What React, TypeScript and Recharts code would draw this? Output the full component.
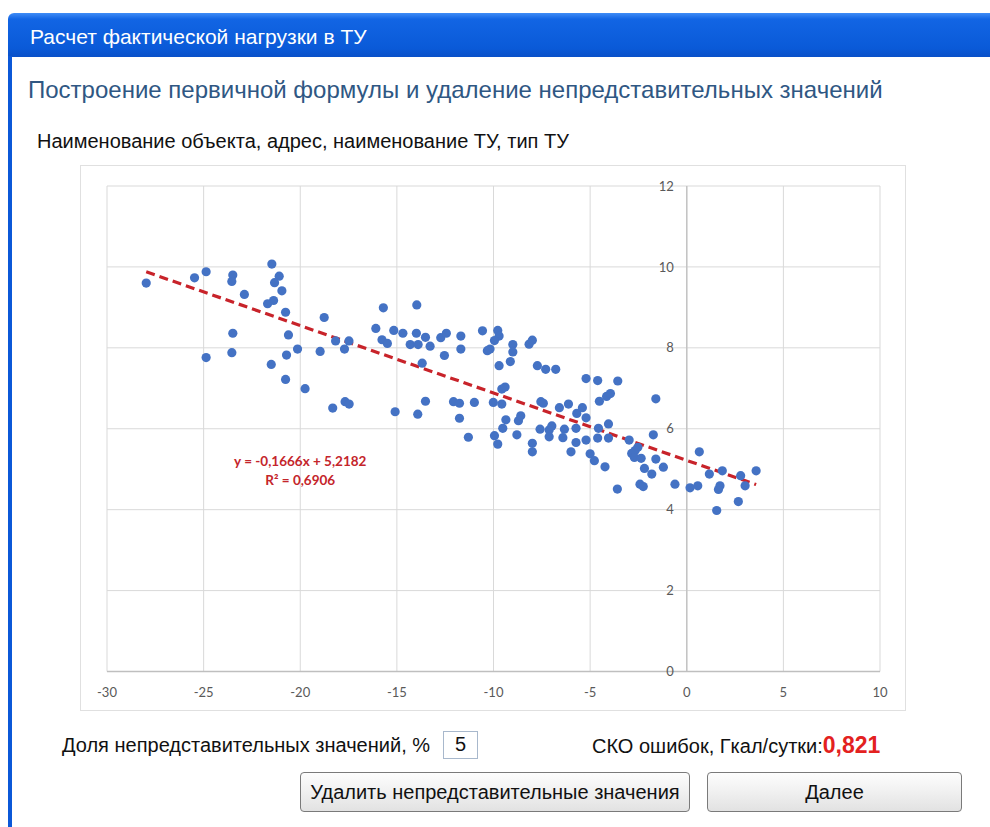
import { ScatterChart, Scatter, XAxis, YAxis, CartesianGrid, ReferenceLine, ReferenceDot } from 'recharts';

// Outdoor temperature, °C (one entry per day)
const tempValues = [
  -27.97, -25.47, -24.87, -23.49, -23.54, -22.89, -21.47, -21.09, -21.33, -20.95,
  -21.38, -21.69, -20.76, -23.49, -20.61, -24.87, -23.54, -20.71, -21.5, -20.76,
  -19.75, -20.14, -18.97, -18.76, -18.17, -17.71, -17.48, -18.32, -17.68, -17.47,
  -16.09, -15.7, -15.77, -15.49, -15.16, -14.69, -15.09, -13.97, -13.99, -14.31,
  -13.9, -13.52, -13.28, -13.69, -13.52, -13.92, -12.73, -12.44, -12.54, -12.07,
  -11.76, -11.69, -11.69, -10.99, -11.76, -11.3, -10.57, -9.78, -9.71, -9.95,
  -10.32, -10.18, -9.0, -9.0, -9.13, -9.71, -8.16, -7.99, -7.73, -7.3,
  -6.78, -10.01, -9.57, -9.57, -9.4, -9.95, -9.78, -9.36, -9.52, -8.71,
  -8.59, -8.79, -7.99, -7.99, -7.55, -7.42, -7.59, -7.12, -6.98, -7.12,
  -6.59, -6.12, -6.33, -6.41, -5.69, -5.4, -5.73, -5.73, -5.99, -5.21,
  -5.21, -5.21, -4.61, -3.57, -4.52, -4.15, -3.95, -5.0, -4.78, -4.57,
  -4.61, -4.23, -4.05, -4.05, -3.59, -1.6, -2.98, -1.73, -2.53, -2.67,
  -2.85, -2.71, -2.36, -2.19, -1.6, -1.81, -1.21, -2.42, -2.25, -0.61,
  0.17, 0.57, 0.65, 1.17, 1.84, 1.72, 1.64, 1.55, 2.67, 2.79,
  3.02, 3.59,
];

// Actual heat load, Gcal/day
const loadValues = [
  9.6, 9.73, 9.88, 9.8, 9.64, 9.32, 10.07, 9.77, 9.61, 9.41,
  9.17, 9.09, 8.88, 8.36, 8.32, 7.76, 7.88, 7.82, 7.59, 7.22,
  6.99, 7.97, 7.91, 8.75, 8.17, 7.97, 8.17, 6.51, 6.67, 6.61,
  8.48, 8.99, 8.2, 8.11, 8.43, 8.36, 6.42, 9.06, 8.36, 8.08,
  8.08, 8.26, 8.04, 7.62, 6.68, 6.36, 8.25, 8.36, 7.81, 6.67,
  6.63, 8.29, 7.97, 6.65, 6.26, 5.79, 8.42, 8.43, 8.29, 8.18,
  7.93, 7.97, 8.08, 7.9, 7.66, 7.56, 8.09, 8.19, 7.56, 7.47,
  7.47, 6.65, 6.61, 6.98, 7.03, 5.83, 5.62, 6.22, 6.01, 6.2,
  6.32, 5.85, 5.64, 5.43, 6.67, 6.63, 5.99, 5.97, 6.07, 5.8,
  6.52, 6.61, 5.99, 5.78, 6.38, 6.52, 6.01, 5.66, 5.43, 6.27,
  5.72, 7.24, 7.19, 7.18, 6.68, 6.8, 6.87, 5.38, 5.21, 6.01,
  5.77, 5.06, 6.12, 5.77, 4.51, 6.74, 5.72, 5.85, 5.54, 5.46,
  5.39, 5.29, 5.27, 5.02, 5.25, 4.88, 5.05, 4.63, 4.57, 4.63,
  4.54, 4.59, 5.43, 4.88, 4.96, 4.59, 4.5, 3.98, 4.2, 4.84,
  4.59, 4.96,
];

const xTicks = [-30, -25, -20, -15, -10, -5, 0, 5, 10];
const yTicks = [0, 2, 4, 6, 8, 10, 12];

// Linear trend fitted over the points
const trendSlope = -0.1666;
const trendIntercept = 5.2182;
const trendR2 = 0.6906;

const rejectShare = 5;
const errorStd = 0.821;

const points = tempValues.map((x, i) => ({ x, y: loadValues[i] }));
const minTemp = Math.min(...tempValues);
const maxTemp = Math.max(...tempValues);
const trendSegment = [
  { x: minTemp, y: trendSlope * minTemp + trendIntercept },
  { x: maxTemp, y: trendSlope * maxTemp + trendIntercept },
];

const comma = (v: number, digits: number) => v.toFixed(digits).replace('.', ',');
const UI_FONT = '"Liberation Sans", Arial, sans-serif';
const CHART_FONT = 'Lato, "Open Sans", sans-serif';

function EquationLabel({ viewBox }: any) {
  const cx = viewBox.x + viewBox.width / 2;
  const cy = viewBox.y + viewBox.height / 2;
  const sign = trendIntercept >= 0 ? '+' : '-';
  return (
    <text x={cx} textAnchor="middle" fill="#c4252b" fontFamily={CHART_FONT} fontWeight={700} fontSize={13.5}>
      <tspan x={cx} y={cy + 4}>{`y = ${comma(trendSlope, 4)}x ${sign} ${comma(Math.abs(trendIntercept), 4)}`}</tspan>
      <tspan x={cx} y={cy + 23}>{`R² = ${comma(trendR2, 4)}`}</tspan>
    </text>
  );
}

function Dot(props: any) {
  return <circle cx={props.cx} cy={props.cy} r={4.6} fill="#4472c4" />;
}

const textStyle = { position: 'absolute' as const, whiteSpace: 'nowrap' as const, color: '#111' };

export default function App() {
  return (
    <div style={{ position: 'absolute', left: 0, top: 0, width: 990, height: 827, background: '#fff', overflow: 'hidden', fontFamily: UI_FONT }}>
      {/* window caption */}
      <div style={{
        position: 'absolute', left: 8, top: 13, width: 990, height: 44,
        borderTopLeftRadius: 6,
        background: 'linear-gradient(to bottom, #3f8cf6 0%, #1265e4 14%, #0a5ad8 80%, #0950c8 100%)',
      }} />
      <div style={{ position: 'absolute', left: 8, top: 56, width: 4, height: 780, background: '#0b58d8' }} />
      <div style={{ ...textStyle, left: 30, top: 23, lineHeight: '28px', fontSize: 21, color: '#fff' }}>
        Расчет фактической нагрузки в ТУ
      </div>

      <div style={{ ...textStyle, left: 28, top: 75, lineHeight: '30px', fontSize: 24, color: '#2f5783' }}>
        Построение первичной формулы и удаление непредставительных значений
      </div>
      <div style={{ ...textStyle, left: 37, top: 128, lineHeight: '26px', fontSize: 20 }}>
        Наименование объекта, адрес, наименование ТУ, тип ТУ
      </div>

      {/* chart frame */}
      <div style={{ position: 'absolute', left: 80, top: 165, width: 826, height: 546, border: '1px solid #e0e0e0', boxSizing: 'border-box' }} />
      <div style={{ position: 'absolute', left: 80, top: 163 }}>
        <ScatterChart width={826} height={548} margin={{ top: 23, right: 26, bottom: 9.5, left: 27 }}>
          <CartesianGrid stroke="#d9d9d9" strokeWidth={1} />
          <XAxis
            type="number"
            dataKey="x"
            domain={[-30, 10]}
            ticks={xTicks}
            interval={0}
            height={30}
            tickLine={false}
            tickMargin={10}
            axisLine={{ stroke: '#bfbfbf', strokeWidth: 1.5 }}
            tick={{ fill: '#595959', fontSize: 13, fontFamily: CHART_FONT }}
          />
          <YAxis type="number" dataKey="y" domain={[0, 12]} ticks={yTicks} hide />
          <ReferenceLine x={0} stroke="#c4c4c4" strokeWidth={1.5} />
          {yTicks.map((t) => (
            <ReferenceDot
              key={t}
              x={0}
              y={t}
              r={0}
              stroke="none"
              label={{ value: t, position: 'left', offset: 13, fill: '#595959', fontSize: 13, fontFamily: CHART_FONT }}
            />
          ))}
          <Scatter data={points} shape={Dot} isAnimationActive={false} />
          <ReferenceLine
            segment={trendSegment}
            stroke="#c8232a"
            strokeWidth={3.2}
            strokeDasharray="9 5"
          />
          <ReferenceDot x={-20} y={5.18} r={0} stroke="none" label={<EquationLabel />} />
        </ScatterChart>
      </div>

      {/* controls under the chart */}
      <div style={{ ...textStyle, left: 62, top: 732, lineHeight: '26px', fontSize: 20 }}>
        Доля непредставительных значений, %
      </div>
      <div style={{
        position: 'absolute', left: 443, top: 731, width: 35, height: 28, boxSizing: 'border-box',
        border: '1px solid #a8b8cc', fontSize: 20, lineHeight: '25px', textAlign: 'center', color: '#111',
      }}>
        {rejectShare}
      </div>
      <div style={{ ...textStyle, left: 592, top: 732, lineHeight: '26px', fontSize: 20 }}>
        СКО ошибок, Гкал/сутки:<span style={{ color: '#e3211f', fontWeight: 700, fontSize: 23 }}>{comma(errorStd, 3)}</span>
      </div>

      {['Удалить непредставительные значения', 'Далее'].map((label, i) => (
        <div
          key={label}
          style={{
            position: 'absolute', left: i === 0 ? 300 : 707, top: 772, width: i === 0 ? 390 : 255, height: 40,
            boxSizing: 'border-box', border: '1px solid #7a7a7a', borderRadius: 4,
            background: 'linear-gradient(to bottom, #fdfdfd 0%, #f0f0f0 50%, #e2e2e2 100%)',
            fontSize: 20, lineHeight: '38px', textAlign: 'center', color: '#111', whiteSpace: 'nowrap',
          }}
        >
          {label}
        </div>
      ))}
    </div>
  );
}
